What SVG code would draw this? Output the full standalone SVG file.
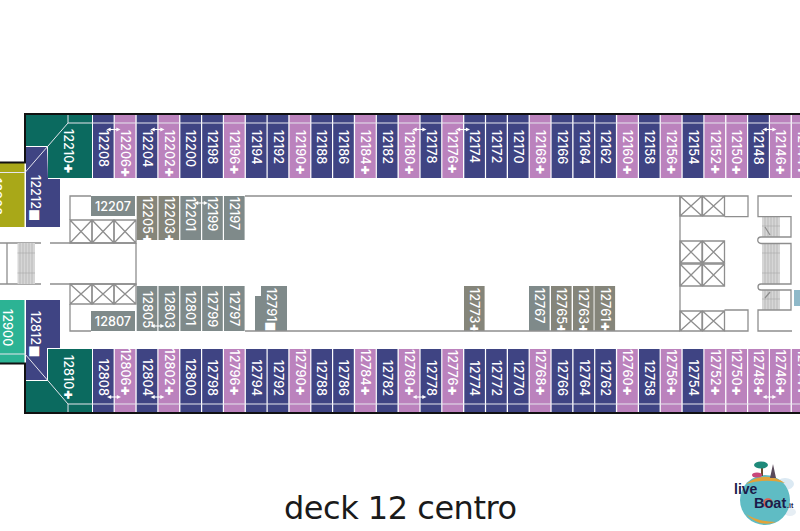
<svg xmlns="http://www.w3.org/2000/svg" width="800" height="531" viewBox="0 0 800 531">
<style>
text{font-family:Inter,"Open Sans","DejaVu Sans",sans-serif;font-size:12.7px;font-weight:500;fill:#fff}
.q{font-weight:900;font-size:15px}
.m{font-family:"DejaVu Sans",sans-serif;font-size:13px}
.n{fill:#3f4483}.p{fill:#bb82bd}.t{fill:#0b6a5f}.g{fill:#7f8a8a}.o{fill:#85857a}
.w{fill:none;stroke:#8e8e8e;stroke-width:1.3}
.b{fill:none;stroke:#111;stroke-width:2}
.l{fill:none;stroke:#e6e6ee;stroke-width:1}
.h{fill:#d6d6d6;stroke:none}
.s{fill:none;stroke:#a8a8a8;stroke-width:.6}
.a{stroke:#fff;stroke-width:1.1;marker-start:url(#ah);marker-end:url(#ah)}
.lg{font-family:"Liberation Sans",sans-serif;font-weight:700;fill:#1c1c4a}
</style>
<defs>
<marker id="ah" viewBox="0 0 6 6" refX="1" refY="3" markerWidth="3.8" markerHeight="3.8" markerUnits="strokeWidth" orient="auto-start-reverse" overflow="visible"><path d="M0 0L6 3L0 6Z" fill="#fff"/></marker>
<path id="x" d="M0 0H22V22H0ZM0 0L22 22M22 0L0 22" class="w"/>
<path id="x1" d="M0 0H22V23H0ZM0 0L22 23M22 0L0 23" class="w"/>
<path id="x2" d="M0 0H22V20H0ZM0 0L22 20M22 0L0 20" class="w"/>
</defs>
<rect width="800" height="531" fill="#fff"/>

<g id="room-12902"><rect x="0" y="163" width="24.5" height="64" fill="#a9a818"/><text transform="translate(-8 178) rotate(90)">12902</text></g>
<g id="room-12900"><rect x="0" y="300" width="24.5" height="63" fill="#2cb394"/><text transform="translate(3 309) rotate(90)">12900</text></g>
<g id="room-12212"><polygon class="n" points="26,147 47,147 48,179 60,179 60,227 26,227"/><text transform="translate(31 175) rotate(90)">12212<tspan class="m">■</tspan></text></g>
<g id="room-12812"><polygon class="n" points="26,300 60,300 60,348 47,348 47,380 26,380"/><text transform="translate(31 311) rotate(90)">12812<tspan class="m">■</tspan></text></g>
<g id="room-12210"><polygon class="t" points="26,115 92,115 92,178 48,178 48,146 26,146"/><text transform="translate(63.5 129) rotate(90)">12210<tspan class="q">+</tspan></text></g>
<g id="room-12810"><polygon class="t" points="48,349 92,349 92,412 26,412 26,381 48,381"/><text transform="translate(63.5 355) rotate(90)">12810<tspan class="q">+</tspan></text></g>

<g id="top-row">
<g id="c12208"><rect class="n" x="93" y="115" width="20.6" height="63"/><text transform="translate(99 130) rotate(90)">12208</text></g>
<g id="c12206"><rect class="p" x="114.8" y="115" width="20.6" height="63"/><text transform="translate(120.8 130) rotate(90)">12206<tspan class="q">+</tspan></text></g>
<g id="c12204"><rect class="n" x="136.7" y="115" width="20.6" height="63"/><text transform="translate(142.7 130) rotate(90)">12204</text></g>
<g id="c12202"><rect class="p" x="158.5" y="115" width="20.6" height="63"/><text transform="translate(164.5 130) rotate(90)">12202<tspan class="q">+</tspan></text></g>
<g id="c12200"><rect class="n" x="180.4" y="115" width="20.6" height="63"/><text transform="translate(186.4 130) rotate(90)">12200</text></g>
<g id="c12198"><rect class="n" x="202.2" y="115" width="20.6" height="63"/><text transform="translate(208.2 130) rotate(90)">12198</text></g>
<g id="c12196"><rect class="p" x="224" y="115" width="20.6" height="63"/><text transform="translate(230 130) rotate(90)">12196<tspan class="q">+</tspan></text></g>
<g id="c12194"><rect class="n" x="245.9" y="115" width="20.6" height="63"/><text transform="translate(251.9 130) rotate(90)">12194</text></g>
<g id="c12192"><rect class="n" x="267.7" y="115" width="20.6" height="63"/><text transform="translate(273.7 130) rotate(90)">12192</text></g>
<g id="c12190"><rect class="p" x="289.6" y="115" width="20.6" height="63"/><text transform="translate(295.6 130) rotate(90)">12190<tspan class="q">+</tspan></text></g>
<g id="c12188"><rect class="n" x="311.4" y="115" width="20.6" height="63"/><text transform="translate(317.4 130) rotate(90)">12188</text></g>
<g id="c12186"><rect class="n" x="333.2" y="115" width="20.6" height="63"/><text transform="translate(339.2 130) rotate(90)">12186</text></g>
<g id="c12184"><rect class="p" x="355.1" y="115" width="20.6" height="63"/><text transform="translate(361.1 130) rotate(90)">12184<tspan class="q">+</tspan></text></g>
<g id="c12182"><rect class="n" x="376.9" y="115" width="20.6" height="63"/><text transform="translate(382.9 130) rotate(90)">12182</text></g>
<g id="c12180"><rect class="p" x="398.8" y="115" width="20.6" height="63"/><text transform="translate(404.8 130) rotate(90)">12180<tspan class="q">+</tspan></text></g>
<g id="c12178"><rect class="n" x="420.6" y="115" width="20.6" height="63"/><text transform="translate(426.6 130) rotate(90)">12178</text></g>
<g id="c12176"><rect class="p" x="442.4" y="115" width="20.6" height="63"/><text transform="translate(448.4 130) rotate(90)">12176<tspan class="q">+</tspan></text></g>
<g id="c12174"><rect class="n" x="464.3" y="115" width="20.6" height="63"/><text transform="translate(470.3 130) rotate(90)">12174</text></g>
<g id="c12172"><rect class="n" x="486.1" y="115" width="20.6" height="63"/><text transform="translate(492.1 130) rotate(90)">12172</text></g>
<g id="c12170"><rect class="n" x="508" y="115" width="20.6" height="63"/><text transform="translate(514 130) rotate(90)">12170</text></g>
<g id="c12168"><rect class="p" x="529.8" y="115" width="20.6" height="63"/><text transform="translate(535.8 130) rotate(90)">12168<tspan class="q">+</tspan></text></g>
<g id="c12166"><rect class="n" x="551.6" y="115" width="20.6" height="63"/><text transform="translate(557.6 130) rotate(90)">12166</text></g>
<g id="c12164"><rect class="n" x="573.5" y="115" width="20.6" height="63"/><text transform="translate(579.5 130) rotate(90)">12164</text></g>
<g id="c12162"><rect class="n" x="595.3" y="115" width="20.6" height="63"/><text transform="translate(601.3 130) rotate(90)">12162</text></g>
<g id="c12160"><rect class="p" x="617.2" y="115" width="20.6" height="63"/><text transform="translate(623.2 130) rotate(90)">12160<tspan class="q">+</tspan></text></g>
<g id="c12158"><rect class="n" x="639" y="115" width="20.6" height="63"/><text transform="translate(645 130) rotate(90)">12158</text></g>
<g id="c12156"><rect class="p" x="660.8" y="115" width="20.6" height="63"/><text transform="translate(666.8 130) rotate(90)">12156<tspan class="q">+</tspan></text></g>
<g id="c12154"><rect class="n" x="682.7" y="115" width="20.6" height="63"/><text transform="translate(688.7 130) rotate(90)">12154</text></g>
<g id="c12152"><rect class="p" x="704.5" y="115" width="20.6" height="63"/><text transform="translate(710.5 130) rotate(90)">12152<tspan class="q">+</tspan></text></g>
<g id="c12150"><rect class="p" x="726.4" y="115" width="20.6" height="63"/><text transform="translate(732.4 130) rotate(90)">12150<tspan class="q">+</tspan></text></g>
<g id="c12148"><rect class="n" x="748.2" y="115" width="20.6" height="63"/><text transform="translate(754.2 130) rotate(90)">12148</text></g>
<g id="c12146"><rect class="p" x="770" y="115" width="20.6" height="63"/><text transform="translate(776 130) rotate(90)">12146<tspan class="q">+</tspan></text></g>
<g id="c12144"><rect class="p" x="791.9" y="115" width="20.6" height="63"/><text transform="translate(797.9 130) rotate(90)">12144<tspan class="q">+</tspan></text></g>
</g>

<g id="bottom-row" text-anchor="end">
<g id="c12808"><rect class="n" x="93" y="349" width="20.6" height="63"/><text transform="translate(99 396) rotate(90)">12808</text></g>
<g id="c12806"><rect class="p" x="114.8" y="349" width="20.6" height="63"/><text transform="translate(120.8 396) rotate(90)">12806<tspan class="q">+</tspan></text></g>
<g id="c12804"><rect class="n" x="136.7" y="349" width="20.6" height="63"/><text transform="translate(142.7 396) rotate(90)">12804</text></g>
<g id="c12802"><rect class="p" x="158.5" y="349" width="20.6" height="63"/><text transform="translate(164.5 396) rotate(90)">12802<tspan class="q">+</tspan></text></g>
<g id="c12800"><rect class="n" x="180.4" y="349" width="20.6" height="63"/><text transform="translate(186.4 396) rotate(90)">12800</text></g>
<g id="c12798"><rect class="n" x="202.2" y="349" width="20.6" height="63"/><text transform="translate(208.2 396) rotate(90)">12798</text></g>
<g id="c12796"><rect class="p" x="224" y="349" width="20.6" height="63"/><text transform="translate(230 396) rotate(90)">12796<tspan class="q">+</tspan></text></g>
<g id="c12794"><rect class="n" x="245.9" y="349" width="20.6" height="63"/><text transform="translate(251.9 396) rotate(90)">12794</text></g>
<g id="c12792"><rect class="n" x="267.7" y="349" width="20.6" height="63"/><text transform="translate(273.7 396) rotate(90)">12792</text></g>
<g id="c12790"><rect class="p" x="289.6" y="349" width="20.6" height="63"/><text transform="translate(295.6 396) rotate(90)">12790<tspan class="q">+</tspan></text></g>
<g id="c12788"><rect class="n" x="311.4" y="349" width="20.6" height="63"/><text transform="translate(317.4 396) rotate(90)">12788</text></g>
<g id="c12786"><rect class="n" x="333.2" y="349" width="20.6" height="63"/><text transform="translate(339.2 396) rotate(90)">12786</text></g>
<g id="c12784"><rect class="p" x="355.1" y="349" width="20.6" height="63"/><text transform="translate(361.1 396) rotate(90)">12784<tspan class="q">+</tspan></text></g>
<g id="c12782"><rect class="n" x="376.9" y="349" width="20.6" height="63"/><text transform="translate(382.9 396) rotate(90)">12782</text></g>
<g id="c12780"><rect class="p" x="398.8" y="349" width="20.6" height="63"/><text transform="translate(404.8 396) rotate(90)">12780<tspan class="q">+</tspan></text></g>
<g id="c12778"><rect class="n" x="420.6" y="349" width="20.6" height="63"/><text transform="translate(426.6 396) rotate(90)">12778</text></g>
<g id="c12776"><rect class="p" x="442.4" y="349" width="20.6" height="63"/><text transform="translate(448.4 396) rotate(90)">12776<tspan class="q">+</tspan></text></g>
<g id="c12774"><rect class="n" x="464.3" y="349" width="20.6" height="63"/><text transform="translate(470.3 396) rotate(90)">12774</text></g>
<g id="c12772"><rect class="n" x="486.1" y="349" width="20.6" height="63"/><text transform="translate(492.1 396) rotate(90)">12772</text></g>
<g id="c12770"><rect class="n" x="508" y="349" width="20.6" height="63"/><text transform="translate(514 396) rotate(90)">12770</text></g>
<g id="c12768"><rect class="p" x="529.8" y="349" width="20.6" height="63"/><text transform="translate(535.8 396) rotate(90)">12768<tspan class="q">+</tspan></text></g>
<g id="c12766"><rect class="n" x="551.6" y="349" width="20.6" height="63"/><text transform="translate(557.6 396) rotate(90)">12766</text></g>
<g id="c12764"><rect class="n" x="573.5" y="349" width="20.6" height="63"/><text transform="translate(579.5 396) rotate(90)">12764</text></g>
<g id="c12762"><rect class="n" x="595.3" y="349" width="20.6" height="63"/><text transform="translate(601.3 396) rotate(90)">12762</text></g>
<g id="c12760"><rect class="p" x="617.2" y="349" width="20.6" height="63"/><text transform="translate(623.2 396) rotate(90)">12760<tspan class="q">+</tspan></text></g>
<g id="c12758"><rect class="n" x="639" y="349" width="20.6" height="63"/><text transform="translate(645 396) rotate(90)">12758</text></g>
<g id="c12756"><rect class="p" x="660.8" y="349" width="20.6" height="63"/><text transform="translate(666.8 396) rotate(90)">12756<tspan class="q">+</tspan></text></g>
<g id="c12754"><rect class="n" x="682.7" y="349" width="20.6" height="63"/><text transform="translate(688.7 396) rotate(90)">12754</text></g>
<g id="c12752"><rect class="p" x="704.5" y="349" width="20.6" height="63"/><text transform="translate(710.5 396) rotate(90)">12752<tspan class="q">+</tspan></text></g>
<g id="c12750"><rect class="p" x="726.4" y="349" width="20.6" height="63"/><text transform="translate(732.4 396) rotate(90)">12750<tspan class="q">+</tspan></text></g>
<g id="c12748"><rect class="p" x="748.2" y="349" width="20.6" height="63"/><text transform="translate(754.2 396) rotate(90)">12748<tspan class="q">+</tspan></text></g>
<g id="c12746"><rect class="p" x="770" y="349" width="20.6" height="63"/><text transform="translate(776 396) rotate(90)">12746<tspan class="q">+</tspan></text></g>
<g id="c12744"><rect class="p" x="791.9" y="349" width="20.6" height="63"/><text transform="translate(797.9 396) rotate(90)">12744<tspan class="q">+</tspan></text></g>
</g>

<g id="inner-rooms">
<g id="c12207"><rect class="g" x="91" y="196" width="44" height="20"/><text x="113" y="211" text-anchor="middle">12207</text></g>
<g id="c12205"><rect class="o" x="136.7" y="196" width="20.6" height="44"/><text transform="translate(142.7 197) rotate(90)">12205<tspan class="q">+</tspan></text></g>
<g id="c12203"><rect class="o" x="158.5" y="196" width="20.6" height="44"/><text transform="translate(164.5 197) rotate(90)">12203<tspan class="q">+</tspan></text></g>
<g id="c12201"><rect class="g" x="180.4" y="196" width="20.6" height="44"/><text transform="translate(186.4 197) rotate(90)">12201</text></g>
<g id="c12199"><rect class="g" x="202.2" y="196" width="20.6" height="44"/><text transform="translate(208.2 197) rotate(90)">12199</text></g>
<g id="c12197"><rect class="g" x="224" y="196" width="20.6" height="44"/><text transform="translate(230 197) rotate(90)">12197</text></g>
<g id="c12807"><rect class="g" x="91" y="311" width="44" height="20"/><text x="113" y="326" text-anchor="middle">12807</text></g>
<g id="c12805"><rect class="g" x="136.7" y="286" width="20.6" height="45"/><text transform="translate(142.7 291) rotate(90)">12805</text></g>
<g id="c12803"><rect class="g" x="158.5" y="286" width="20.6" height="45"/><text transform="translate(164.5 291) rotate(90)">12803</text></g>
<g id="c12801"><rect class="g" x="180.4" y="286" width="20.6" height="45"/><text transform="translate(186.4 291) rotate(90)">12801</text></g>
<g id="c12799"><rect class="g" x="202.2" y="286" width="20.6" height="45"/><text transform="translate(208.2 291) rotate(90)">12799</text></g>
<g id="c12797"><rect class="g" x="224" y="286" width="20.6" height="45"/><text transform="translate(230 291) rotate(90)">12797</text></g>
<g id="c12791"><polygon class="g" points="261,286 287,286 287,331 255,331 255,296 261,296"/><text transform="translate(267 288) rotate(90)">12791<tspan class="m">■</tspan></text></g>
<g id="c12773"><rect class="o" x="464" y="286" width="20.6" height="45"/><text transform="translate(470 288) rotate(90)">12773<tspan class="q">+</tspan></text></g>
<g id="c12767"><rect class="g" x="529" y="286" width="20.6" height="45"/><text transform="translate(535 288) rotate(90)">12767</text></g>
<g id="c12765"><rect class="o" x="551" y="286" width="20.6" height="45"/><text transform="translate(557 288) rotate(90)">12765<tspan class="q">+</tspan></text></g>
<g id="c12763"><rect class="o" x="573" y="286" width="20.6" height="45"/><text transform="translate(579 288) rotate(90)">12763<tspan class="q">+</tspan></text></g>
<g id="c12761"><rect class="o" x="594.5" y="286" width="20.6" height="45"/><text transform="translate(600.5 288) rotate(90)">12761<tspan class="q">+</tspan></text></g>
<rect x="794" y="290" width="6" height="16" fill="#8fb9c9"/>
</g>

<g id="bands">
<path class="l" d="M68 115V123H800M68 123L25 172.5H0"/>
<path class="l" d="M68 412V404H800M68 404L25 354H0"/>
<path class="b" d="M0 162.5H25V114H800"/>
<path class="b" d="M0 363.5H25V413H800"/>
</g>

<g id="walls">
<path class="w" d="M245 196H680M70 220V196H91M245 331H680M70 304V331H91M136 243V285"/>
<path class="w" d="M0 243H41M50 243H136M0 284H41M50 284H136M7 243V284"/>
<use href="#x1" x="70" y="220"/><use href="#x1" x="92" y="220"/><use href="#x1" x="114" y="220"/>
<use href="#x2" x="70" y="284"/><use href="#x2" x="92" y="284"/><use href="#x2" x="114" y="284"/>
<rect class="h" x="17.5" y="243" width="17.5" height="41"/>
<path class="s" d="M20 243V284M23 243V284M26 243V284M29 243V284M32 243V284M17.5 253H35M17.5 273H35"/>

<path class="w" d="M680 196V331"/>
<use href="#x2" x="680" y="196"/><use href="#x2" x="702.5" y="196"/>
<use href="#x2" x="680" y="311"/><use href="#x2" x="702.5" y="311"/>
<path class="w" d="M724.5 196H748V216.7H724.5M724.5 310H748V331H724.5"/>
<use href="#x" x="680" y="241"/><use href="#x" x="702.5" y="241"/>
<use href="#x" x="680" y="264"/><use href="#x" x="702.5" y="264"/>

<rect class="h" x="762" y="217" width="18" height="20"/>
<rect class="h" x="762" y="243.5" width="18" height="41"/>
<rect class="h" x="762" y="290" width="18" height="20"/>
<path class="s" d="M765 217V237M768 217V237M771 217V237M774 217V237M777 217V237M765 243.5V284M768 243.5V284M771 243.5V284M774 243.5V284M777 243.5V284M765 290V310M768 290V310M771 290V310M774 290V310M777 290V310M762 226H780M762 253H780M762 273H780M762 299H780"/>
<path class="w" d="M765 227L770 235M765 298L770 292"/>
<path class="w" d="M792 196H758V216.7H791V237H761A3 3 0 0 0 761 243.5H791V284H761A3 3 0 0 0 761 290H791V310H758V331H792"/>
</g>

<g id="connectors">
<line class="a" x1="110" y1="129.5" x2="117" y2="129.5"/>
<line class="a" x1="154" y1="129.5" x2="161" y2="129.5"/>
<line class="a" x1="416" y1="129.5" x2="423" y2="129.5"/>
<line class="a" x1="459.5" y1="129.5" x2="466.5" y2="129.5"/>
<line class="a" x1="766" y1="129.5" x2="773" y2="129.5"/>
<line class="a" x1="197.5" y1="203" x2="204.5" y2="203"/>
<line class="a" x1="110.5" y1="397" x2="117.5" y2="397"/>
<line class="a" x1="154" y1="397" x2="161" y2="397"/>
<line class="a" x1="154" y1="326" x2="161" y2="326"/>
<line class="a" x1="416" y1="397" x2="423" y2="397"/>
<line class="a" x1="766" y1="397" x2="773" y2="397"/>
</g>

<text id="title" x="284" y="519" textLength="233" style="font-family:'DejaVu Sans',sans-serif;font-size:32px;font-weight:400;fill:#1a1a1a">deck 12 centro</text>

<g id="logo">
<ellipse cx="785" cy="484" rx="9" ry="6" fill="#dbe9f3"/>
<ellipse cx="790" cy="512" rx="6" ry="4" fill="#e6eef4"/>
<circle cx="765" cy="500" r="25" fill="#5fbcc4"/>
<path d="M746 484Q765 470 785 483Q765 478 746 484Z" fill="#e2a33a"/>
<path d="M746 514Q758 522 776 522Q760 528 746 514Z" fill="#e2a33a"/>
<rect x="761" y="468" width="2" height="8" fill="#6b4a2a"/>
<ellipse cx="761" cy="465" rx="7" ry="3.5" fill="#1f8a7a"/>
<path d="M770 478L773 464L776 478Z" fill="#5a4a5a"/>
<ellipse cx="757" cy="475" rx="5" ry="2.5" fill="#c8487a"/>
<circle cx="768" cy="503" r="4" fill="none" stroke="#e8584a" stroke-width="1.6"/>
<text x="734" y="494" class="lg" style="font-size:14px;fill:#1c1c4a;font-family:'Liberation Sans',sans-serif;font-weight:700">live</text>
<text x="754" y="508" class="lg" style="font-size:14.5px;fill:#1c1c4a;font-family:'Liberation Sans',sans-serif;font-weight:700">Boat</text>
<text x="787" y="508" class="lg" style="font-size:7px;fill:#1c1c4a;font-family:'Liberation Sans',sans-serif;font-weight:700">.it</text>
</g>
</svg>
